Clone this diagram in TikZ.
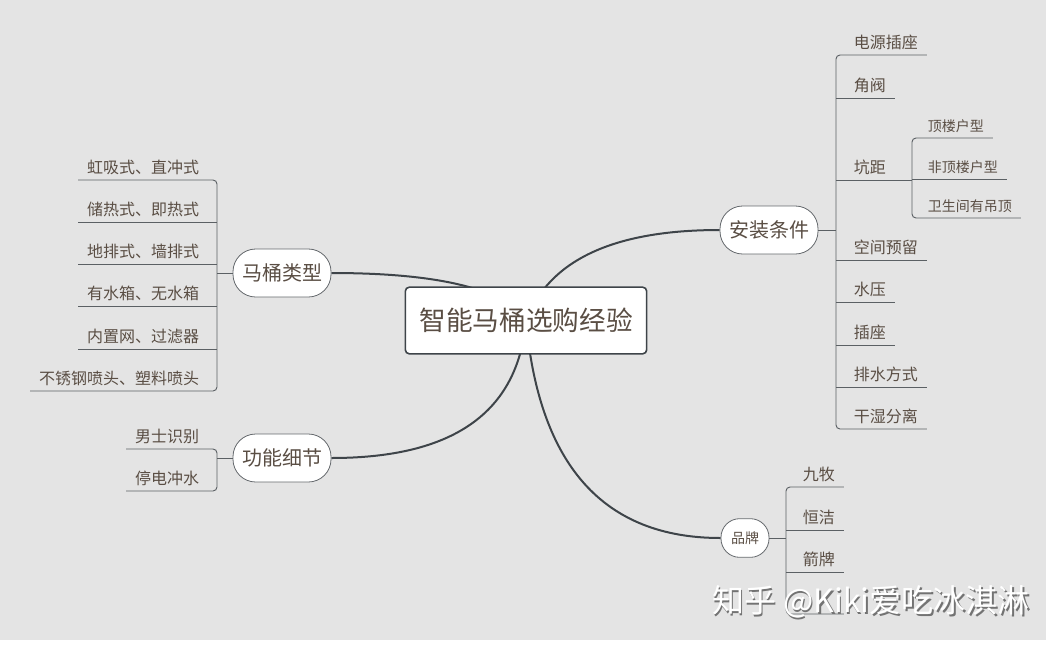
\documentclass[tikz,border=0pt]{standalone}
\usepackage{fontspec}
\setmainfont{Noto Sans CJK SC}
\usetikzlibrary{backgrounds}
\definecolor{bgc}{HTML}{E4E4E4}
\definecolor{txt}{HTML}{5A4E44}
\definecolor{ln}{HTML}{3E4449}

\begin{document}
\begin{tikzpicture}[x=0.75pt,y=-0.75pt,
 root/.style={draw=ln,line width=1.2pt,rounded corners=3pt,fill=white,text=txt,font=\fontsize{20}{24}\selectfont,minimum width=181pt,minimum height=50pt},
 topic/.style={draw=ln!80,line width=0.6pt,rounded corners=17pt,fill=white,text=txt,font=\fontsize{15}{18}\selectfont,minimum width=73.5pt,minimum height=36pt},
 small/.style={topic,rounded corners=14pt,font=\fontsize{10.5}{12}\selectfont,minimum width=36pt,minimum height=29pt,inner sep=1pt},
 leaf/.style={inner xsep=6.5pt,inner ysep=3.5pt,text=txt,font=\fontsize{12}{14}\selectfont},
 subleaf/.style={leaf,font=\fontsize{10.5}{12}\selectfont},
 wm/.style={font=\fontsize{24}{28}\selectfont},
 curve/.style={ln,line width=1.5pt},
 brace/.style={ln!85,line width=0.7pt,rounded corners=3pt}]
\useasboundingbox (0,0) rectangle (1056,647);
\node[root] (root) at (526,320.5) {智能马桶选购经验};
\node[topic] (mt) at (282,273) {马桶类型};
\node[topic] (gn) at (282,458) {功能细节};
\node[topic] (az) at (769,230) {安装条件};
\node[small] (pp) at (745,538) {品牌};
\coordinate (ka) at (217,273);
\coordinate (kg) at (217,458);
\coordinate (kb) at (836,230);
\coordinate (ks) at (912,179);
\coordinate (kp) at (786,538);
\node[leaf,anchor=south east] (a1) at (208,180) {虹吸式、直冲式};
\node[leaf,anchor=south east] (a2) at (208,222) {储热式、即热式};
\node[leaf,anchor=south east] (a3) at (208,264) {地排式、墙排式};
\node[leaf,anchor=south east] (a4) at (208,306) {有水箱、无水箱};
\node[leaf,anchor=south east] (a5) at (208,349) {内置网、过滤器};
\node[leaf,anchor=south east] (a6) at (208,391) {不锈钢喷头、塑料喷头};
\node[leaf,anchor=south east] (g1) at (208,449) {男士识别};
\node[leaf,anchor=south east] (g2) at (208,491) {停电冲水};
\node[leaf,anchor=south west] (b1) at (845,55) {电源插座};
\node[leaf,anchor=south west] (b2) at (845,98) {角阀};
\node[leaf,anchor=south west] (b3) at (845,180) {坑距};
\node[leaf,anchor=south west] (b4) at (845,260) {空间预留};
\node[leaf,anchor=south west] (b5) at (845,302) {水压};
\node[leaf,anchor=south west] (b6) at (845,345) {插座};
\node[leaf,anchor=south west] (b7) at (845,387) {排水方式};
\node[leaf,anchor=south west] (b8) at (845,429) {干湿分离};
\node[subleaf,anchor=south west] (s1) at (919,138) {顶楼户型};
\node[subleaf,anchor=south west] (s2) at (919,179) {非顶楼户型};
\node[subleaf,anchor=south west] (s3) at (919,218) {卫生间有吊顶};
\node[leaf,anchor=south west] (p1) at (794,487) {九牧};
\node[leaf,anchor=south west] (p2) at (794,530) {恒洁};
\node[leaf,anchor=south west] (p3) at (794,572) {箭牌};
\node[leaf,anchor=south west] (p4) at (794,614) {\phantom{九牧}};
\draw[brace] (mt.west) -- (mt.west -| ka);
\draw[brace] (a1.south west) -- (a1.south west -| ka) -- (a6.south west -| ka) -- (a6.south west);
\foreach \n in {a2,a3,a4,a5} \draw[brace] (\n.south west) -- (\n.south west -| ka);
\draw[brace] (gn.west) -- (gn.west -| kg);
\draw[brace] (g1.south west) -- (g1.south west -| kg) -- (g2.south west -| kg) -- (g2.south west);
\draw[brace] (az.east) -- (az.east -| kb);
\draw[brace] (b1.south east) -- (b1.south west -| kb) -- (b8.south west -| kb) -- (b8.south east);
\foreach \n in {b2,b4,b5,b6,b7} \draw[brace] (\n.south west -| kb) -- (\n.south east);
\draw[brace] (b3.south west -| kb) -- (b3.south west -| ks);
\draw[brace] (s1.south east) -- (s1.south west -| ks) -- (s3.south west -| ks) -- (s3.south east);
\draw[brace] (s2.south west -| ks) -- (s2.south east);
\draw[brace] (pp.east) -- (pp.east -| kp);
\draw[brace] (p1.south east) -- (p1.south west -| kp) -- (p4.south west -| kp) -- (p4.south east);
\foreach \n in {p2,p3} \draw[brace] (\n.south west -| kp) -- (\n.south east);
\node[wm,text=black!55] (wms) at (872.5,603.5) {知乎 @Kiki爱吃冰淇淋};
\node[wm,text=white] (wmk) at (871,602) {知乎 @Kiki爱吃冰淇淋};
\begin{scope}[on background layer]
\fill[white] (0,0) rectangle (1056,647);
\fill[bgc] (0,0) rectangle (1046,640);
\draw[curve] (root.center) .. controls +(-21,-31) and +(109,0) .. (mt.east);
\draw[curve] (root.center) .. controls +(23,-60) and +(-107,0) .. (az.west);
\draw[curve] (root.center) .. controls +(-8,92) and +(122,0) .. (gn.east);
\draw[curve] (root.center) .. controls +(13,145) and +(-117,0) .. (pp.west);
\end{scope}
\end{tikzpicture}
\end{document}
